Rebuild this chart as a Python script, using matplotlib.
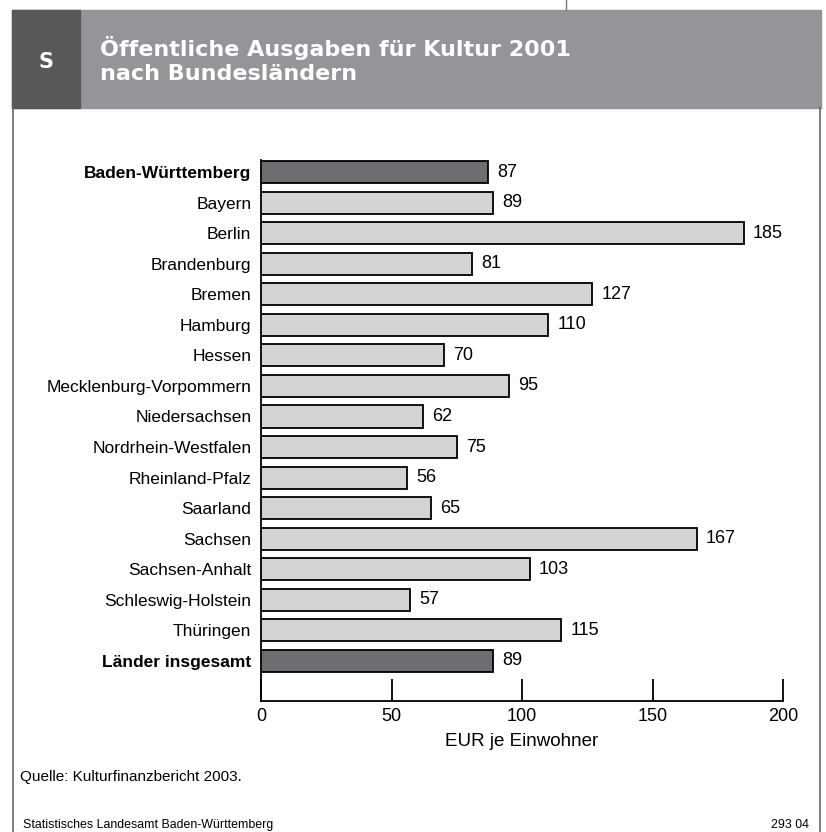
import matplotlib.pyplot as plt
from matplotlib.patches import Rectangle
from matplotlib.lines import Line2D

plt.rcParams['font.family'] = ['Liberation Sans', 'DejaVu Sans']

laender = ['Baden-Württemberg', 'Bayern', 'Berlin', 'Brandenburg', 'Bremen', 'Hamburg',
           'Hessen', 'Mecklenburg-Vorpommern', 'Niedersachsen', 'Nordrhein-Westfalen',
           'Rheinland-Pfalz', 'Saarland', 'Sachsen', 'Sachsen-Anhalt', 'Schleswig-Holstein',
           'Thüringen', 'Länder insgesamt']
werte = [87, 89, 185, 81, 127, 110, 70, 95, 62, 75, 56, 65, 167, 103, 57, 115, 89]
hervorgehoben = ['Baden-Württemberg', 'Länder insgesamt']
xticks = [0, 50, 100, 150, 200]

W, H = 826, 832
fig = plt.figure(figsize=(W / 100, H / 100), dpi=100)

# header
band = '#939598'
dark = '#58585a'
fig.patches.append(Rectangle((12 / W, 1 - 108 / H), (821 - 12) / W, 98 / H,
                             transform=fig.transFigure, color=band, zorder=0))
fig.patches.append(Rectangle((12 / W, 1 - 108 / H), 68 / W, 98 / H,
                             transform=fig.transFigure, color=dark, zorder=1))
fig.lines.append(Line2D([566 / W, 566 / W], [1, 1 - 10 / H], transform=fig.transFigure,
                        color='#777777', lw=1))
for xp in (12.5, 820):
    fig.lines.append(Line2D([xp / W, xp / W], [1 - 108 / H, 0], transform=fig.transFigure,
                            color='#666666', lw=1.2))
fig.text(46 / W, 1 - 62 / H, 'S', color='white', fontsize=15, fontweight='bold',
         ha='center', va='center', family='DejaVu Sans')
fig.text(100 / W, 1 - 56 / H, 'Öffentliche Ausgaben für Kultur 2001', color='white',
         fontsize=16, fontweight='bold', ha='left', va='baseline', family='DejaVu Sans')
fig.text(100 / W, 1 - 80 / H, 'nach Bundesländern', color='white',
         fontsize=16, fontweight='bold', ha='left', va='baseline', family='DejaVu Sans')

# chart
ax = fig.add_axes([261 / W, 1 - 701 / H, (783 - 261) / W, (701 - 160) / H])
y = list(range(len(laender)))
farben = ['#6d6e71' if l in hervorgehoben else '#d4d4d6' for l in laender]
ax.barh(y, werte, height=0.72, color=farben, edgecolor='black', linewidth=1.3, zorder=3)
for yi, v in zip(y, werte):
    ax.text(v + 3.5, yi, str(v), va='center', ha='left', fontsize=13)

ax.set_xlim(0, 200)
ax.set_ylim(16 + 40 / 30.56, -12 / 30.56)
ax.set_yticks(y)
ax.set_yticklabels(laender, fontsize=12.5)
for lab in ax.get_yticklabels():
    if lab.get_text() in hervorgehoben:
        lab.set_fontweight('bold')
ax.tick_params(axis='y', length=0, pad=7)
ax.set_xticks(xticks)
ax.set_xticklabels([str(t) for t in xticks], fontsize=13)
ax.tick_params(axis='x', direction='in', length=16, width=1.3, pad=5)
for s in ('top', 'right'):
    ax.spines[s].set_visible(False)
for s in ('left', 'bottom'):
    ax.spines[s].set_linewidth(1.3)
ax.set_xlabel('EUR je Einwohner', fontsize=13.5, labelpad=6)

fig.text(20 / W, 1 - 777 / H, 'Quelle: Kulturfinanzbericht 2003.', fontsize=11,
         va='center', ha='left')
fig.text(23 / W, 1 - 825 / H, 'Statistisches Landesamt Baden-Württemberg', fontsize=8.9,
         va='center', ha='left')
fig.text(809 / W, 1 - 825 / H, '293 04', fontsize=8.9, va='center', ha='right')

fig.savefig('out.png', dpi=100)
